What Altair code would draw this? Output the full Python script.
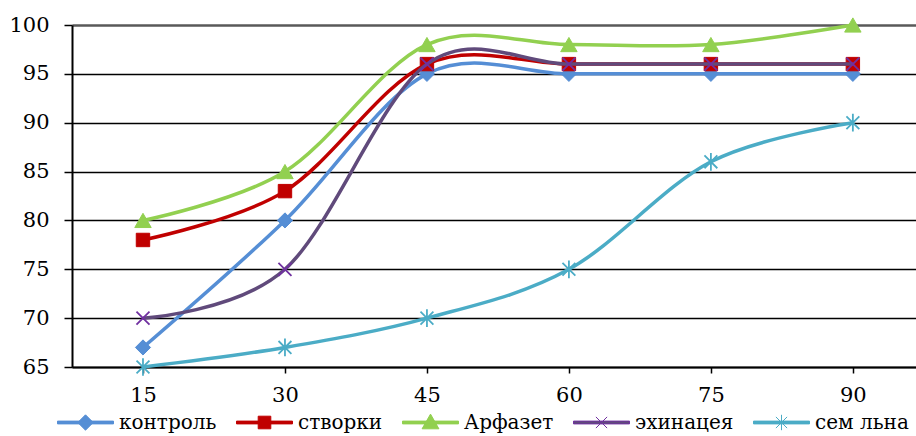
import altair as alt
import pandas as pd

minutes = [15, 30, 45, 60, 75, 90]
series_names = ["контроль", "створки", "Арфазет", "эхинацея", "сем льна"]
kontrol = [67, 80, 95, 95, 95, 95]
stvorki = [78, 83, 96, 96, 96, 96]
arfazet = [80, 85, 98, 98, 98, 100]
ehinacea = [70, 75, 96, 96, 96, 96]
sem_lna = [65, 67, 70, 75, 86, 90]
y_ticks = [65, 70, 75, 80, 85, 90, 95, 100]

values = [kontrol, stvorki, arfazet, ehinacea, sem_lna]
line_colors = ["#558ED5", "#C00000", "#92D050", "#604A7B", "#4BACC6"]
marker_colors = ["#558ED5", "#C00000", "#92D050", "#7030A0", "#4BACC6"]

X_PATH = "M-1,-1L1,1M-1,1L1,-1"
STAR_PATH = "M-0.8,-0.8L0.8,0.8M-0.8,0.8L0.8,-0.8M0,-1.1L0,1.1"
marker_shapes = ["diamond", "square", "triangle-up", X_PATH, STAR_PATH]
marker_sizes = [230, 180, 270, 170, 260]
marker_filled = [True, True, True, False, False]

LINE = "M-2,-0.1L2,-0.1L2,0.1L-2,0.1Z"
legend_paths = [
    LINE + "M0,-0.55L0.55,0L0,0.55L-0.55,0Z",
    LINE + "M-0.45,-0.45L0.45,-0.45L0.45,0.45L-0.45,0.45Z",
    LINE + "M0,-0.6L0.6,0.45L-0.6,0.45Z",
    LINE + "M-0.4,-0.4L0.4,0.4M-0.4,0.4L0.4,-0.4",
    LINE + "M-0.4,-0.4L0.4,0.4M-0.4,0.4L0.4,-0.4M0,-0.55L0,0.55",
]

rows = []
for name, vals in zip(series_names, values):
    for m, v in zip(minutes, vals):
        rows.append({"series": name, "minute": m, "value": v})
df = pd.DataFrame(rows)

FONT = "DejaVu Serif"

x_enc = alt.X(
    "minute:Q",
    scale=alt.Scale(domain=[7.5, 96.67], nice=False, zero=False),
    axis=alt.Axis(
        values=minutes, title=None, grid=False, tickSize=6, tickWidth=1.5,
        tickColor="black", domainColor="black", domainWidth=2,
        labelFont=FONT, labelFontSize=21, labelColor="black", labelPadding=11,
    ),
)
y_enc = alt.Y(
    "value:Q",
    scale=alt.Scale(domain=[65, 100], nice=False, zero=False),
    axis=alt.Axis(
        values=y_ticks, title=None, grid=True,
        gridColor={"condition": {"test": "datum.value == 100", "value": "#595959"}, "value": "black"},
        gridWidth={"condition": {"test": "datum.value == 100", "value": 2.5}, "value": 1.5},
        tickSize=8, tickWidth=1.5, tickColor="black", domainColor="black", domainWidth=2,
        labelFont=FONT, labelFontSize=21, labelColor="black", labelPadding=15,
    ),
)

base = alt.Chart(df)
layers = []
for i, name in enumerate(series_names):
    sub = base.transform_filter(alt.datum.series == name)
    layers.append(
        sub.mark_line(interpolate="cardinal", tension=0, strokeWidth=3.5,
                      color=line_colors[i]).encode(x=x_enc, y=y_enc)
    )
    if marker_filled[i]:
        pt = sub.mark_point(shape=marker_shapes[i], size=marker_sizes[i], filled=True,
                            fill=marker_colors[i], stroke=marker_colors[i],
                            strokeWidth=1, opacity=1)
    else:
        pt = sub.mark_point(shape=marker_shapes[i], size=marker_sizes[i], filled=False,
                            stroke=marker_colors[i], strokeWidth=1.8, opacity=1)
    layers.append(pt.encode(x=x_enc, y=y_enc))

legend_def = alt.Legend(
    title=None, orient="none", direction="horizontal", columns=5, gridAlign="none",
    legendX=-1, legendY=383, symbolSize=784, symbolStrokeWidth=1,
    labelOffset=19, columnPadding=17, labelFont=FONT, labelFontSize=20,
    labelColor="black", symbolOpacity=1,
)
legend_layer = base.transform_filter("false").mark_point(filled=True, opacity=1).encode(
    x=x_enc, y=y_enc,
    fill=alt.Fill("series:N", scale=alt.Scale(domain=series_names, range=line_colors), legend=legend_def),
    stroke=alt.Stroke("series:N", scale=alt.Scale(domain=series_names, range=marker_colors), legend=legend_def),
    shape=alt.Shape("series:N", scale=alt.Scale(domain=series_names, range=legend_paths), legend=legend_def),
)
layers.append(legend_layer)

chart = alt.layer(*layers).properties(
    width=844, height=342,
    autosize=alt.AutoSizeParams(type="none"),
    padding={"left": 72, "top": 25, "right": 0, "bottom": 69},
).configure_view(stroke=None).configure(background="white")

chart.save("out.html", embed_options={"renderer": "svg", "actions": False})
